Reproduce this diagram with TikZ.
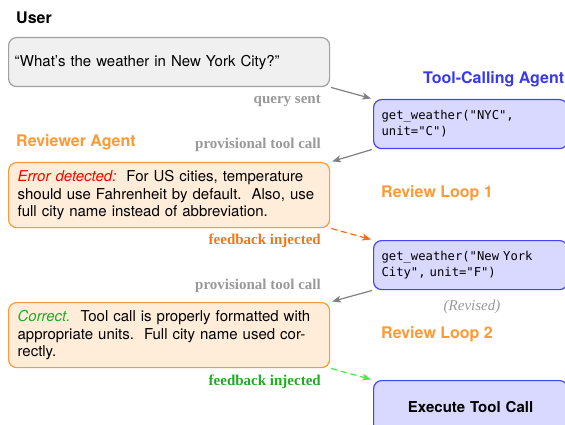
\documentclass[tikz,border=0pt]{standalone}
\usepackage{fontspec}
\setmainfont{Liberation Serif}
\setsansfont{TeX Gyre Heros}
\setmonofont{DejaVu Sans Mono}
\usetikzlibrary{arrows.meta}

\definecolor{userfill}{HTML}{F0F0F0}
\definecolor{userline}{HTML}{A0A0A0}
\definecolor{toolfill}{HTML}{D9D9FF}
\definecolor{toolline}{HTML}{4444FF}
\definecolor{revfill}{HTML}{FFEDD9}
\definecolor{revline}{HTML}{FF9933}
\definecolor{revhead}{HTML}{FF9933}
\definecolor{toolhead}{HTML}{3838F0}
\definecolor{fbtext}{HTML}{F07818}
\definecolor{fbline}{HTML}{FF6A10}
\definecolor{oktext}{HTML}{22AA22}
\definecolor{okline}{HTML}{44EE44}
\definecolor{labelgray}{HTML}{999999}
\definecolor{arrowgray}{HTML}{808080}

\tikzset{
  body/.style={font=\sffamily\fontsize{15}{17.5}\selectfont},
  userbox/.style={draw=userline, fill=userfill, line width=1.2pt, rounded corners=8pt,
    anchor=north west, minimum width=321pt, minimum height=49pt, inner xsep=6pt,
    text width=309pt, align=left, body},
  revbox/.style={draw=revline, fill=revfill, line width=1.2pt, rounded corners=8pt,
    anchor=north west, minimum width=321pt, minimum height=65pt, inner xsep=9pt,
    text width=303pt, align=left, body},
  toolbox/.style={draw=toolline, fill=toolfill, line width=1.2pt, rounded corners=8pt,
    anchor=north west, minimum width=194pt, minimum height=49pt, inner xsep=8pt,
    text width=178pt, align=left, font=\ttfamily\fontsize{12.2}{16}\selectfont},
  header/.style={anchor=west, inner sep=0pt, font=\sffamily\bfseries\fontsize{16}{18}\selectfont},
  edgelabel/.style={anchor=east, inner sep=0pt, text=labelgray, font=\rmfamily\bfseries\fontsize{15}{17}\selectfont},
  flow/.style={draw=arrowgray, line width=1.2pt, -{Stealth[length=9pt,width=7pt,inset=2.5pt]},
    shorten <=1pt, shorten >=2pt},
  feedback/.style={line width=1.2pt, dash pattern=on 6pt off 4pt,
    -{Stealth[length=9pt,width=7pt,inset=2.5pt]}, shorten <=1pt, shorten >=2pt},
}

\begin{document}
\begin{tikzpicture}[x=1pt, y=-1pt]
  \useasboundingbox (0,0) rectangle (565,425);

  % column headers
  \node[header] (userhead) at (16,18) {User};
  \node[header, text=toolhead] (toolhead) at (423,79) {Tool-Calling Agent};
  \node[header, text=revhead] (revhead) at (16,142) {Reviewer Agent};
  \node[header, text=revhead] (loop1) at (381,193) {Review Loop 1};
  \node[header, text=revhead] (loop2) at (381,334) {Review Loop 2};

  % user query
  \node[userbox] (user) at (8,37) {``What's the weather in New York City?''};

  % tool calls
  \node[toolbox] (tool1) at (373,99) {get\_weather("NYC",\\unit="C")};
  \node[toolbox] (tool2) at (373,240) {get\_weather("New York\\City", unit="F")};
  \node[toolbox, minimum height=52pt, align=center, font=\sffamily\bfseries\fontsize{15}{17}\selectfont]
    (exec) at (373,380) {Execute Tool Call};
  \node[anchor=center, inner sep=0pt, text=labelgray, font=\rmfamily\itshape\fontsize{15}{17}\selectfont]
    (revised) at (472,307) {(Revised)};

  % reviewer verdicts
  \node[revbox] (rev1) at (8,162) {\textcolor{red}{\itshape Error detected:}\ \ For US cities, temperature\\
    should use Fahrenheit by default.\ \ Also, use\\full city name instead of abbreviation.};
  \node[revbox] (rev2) at (8,302) {\textcolor{oktext}{\itshape Correct.}\ \ Tool call is properly formatted with\\
    appropriate units.\ \ Full city name used cor-\\rectly.};

  % connectors
  \draw[flow] (user.south east) -- (tool1.north west);
  \draw[flow] (tool1.south west) -- (rev1.north east);
  \draw[feedback, draw=fbline, fill=fbline] (rev1.south east) -- (tool2.north west);
  \draw[flow] (tool2.south west) -- (rev2.north east);
  \draw[feedback, draw=okline, fill=okline] (rev2.south east) -- (exec.north west);

  % connector labels
  \node[edgelabel] (lq) at (321,101) {query sent};
  \node[edgelabel] (lp1) at (321,145) {provisional tool call};
  \node[edgelabel, text=fbtext] (lf1) at (321,241) {feedback injected};
  \node[edgelabel] (lp2) at (321,286) {provisional tool call};
  \node[edgelabel, text=oktext] (lf2) at (321,382) {feedback injected};
\end{tikzpicture}
\end{document}
